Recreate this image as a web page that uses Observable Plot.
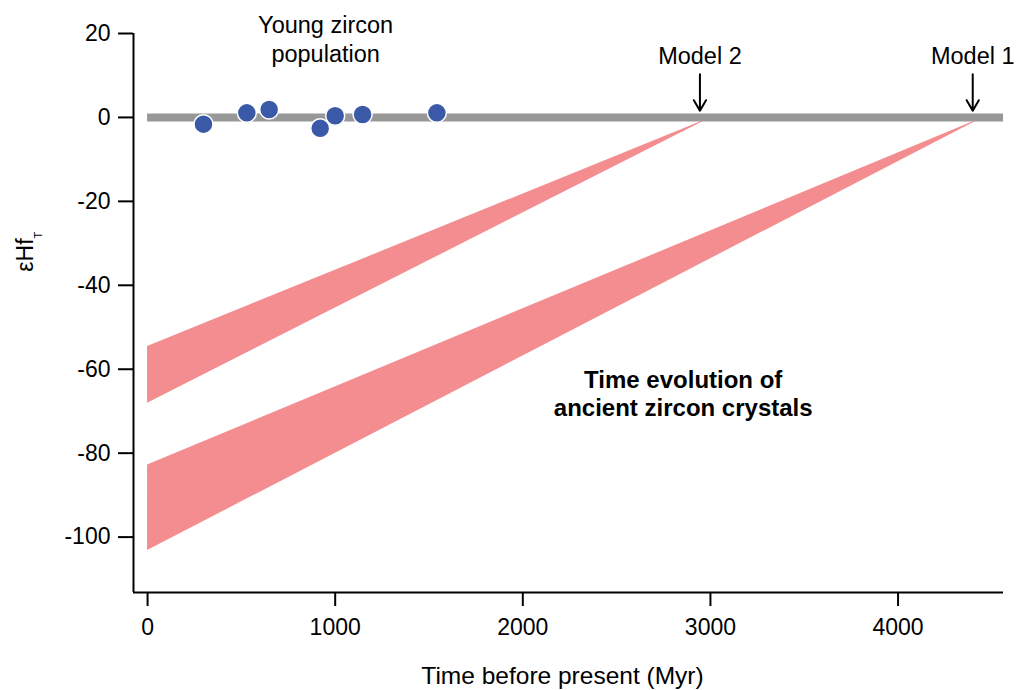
<!DOCTYPE html>
<html>
<head>
<meta charset="utf-8">
<script src="https://cdn.jsdelivr.net/npm/d3@7"></script>
<script src="https://cdn.jsdelivr.net/npm/@observablehq/plot@0.6"></script>
<style>
  body { margin: 0; background: #fff; }
</style>
</head>
<body>
<div id="chart"></div>
<script>
// Axis extents and tick values
const ageDomain = [-75, 4562];
const eHfDomain = [-113.2, 20];
const ageTicks = [0, 1000, 2000, 3000, 4000];
const eHfTicks = [20, 0, -20, -40, -60, -80, -100];

// Young zircon population (age in Myr, εHf at crystallisation)
const youngAge = [298, 529, 648, 920, 1000, 1146, 1542];
const youngEHf = [-1.6, 1.1, 1.9, -2.6, 0.4, 0.7, 1.1];

// Evolution bands of the ancient zircons back to their model ages
const bandModel = ["Model 1", "Model 1", "Model 2", "Model 2"];
const bandAge = [0, 4455, 0, 3005];
const bandLow = [-103.2, 0, -68.1, 0];
const bandHigh = [-82.8, 0, -54.6, 0];

// Model age markers
const modelNames = ["Model 2", "Model 1"];
const modelAge = [2944, 4398];

const FONT = "'Liberation Sans', Arial, Helvetica, sans-serif";

const young = youngAge.map((t, i) => ({age: t, eHf: youngEHf[i]}));
const bands = bandAge.map((t, i) => ({model: bandModel[i], age: t, low: bandLow[i], high: bandHigh[i]}));
const models = modelNames.map((name, i) => ({name, age: modelAge[i]}));

const chart = Plot.plot({
  width: 1016,
  height: 690,
  marginLeft: 133,
  marginRight: 13,
  marginTop: 33,
  marginBottom: 98,
  style: {fontFamily: FONT, fontSize: "23px", color: "#000", background: "#fff"},
  x: {domain: ageDomain},
  y: {domain: eHfDomain},
  marks: [
    Plot.areaY(bands, {x: "age", y1: "low", y2: "high", z: "model", fill: "#f48d90"}),
    Plot.ruleY([0], {x1: 0, x2: ageDomain[1], stroke: "#989898", strokeWidth: 8}),
    Plot.dot(young, {x: "age", y: "eHf", r: 9.5, fill: "#3a5aa8", stroke: "#fff", strokeWidth: 1.5}),
    Plot.arrow(models, {x: "age", y1: 10.3, y2: 1.6, stroke: "#000", strokeWidth: 2, headLength: 10, headAngle: 60}),
    Plot.text(models, {x: "age", y: 16.6, text: "name", lineAnchor: "top", fontSize: 23.5, fill: "#000"}),
    Plot.text(["Young zircon\npopulation"], {x: 949, y: 24.8, text: d => d, lineAnchor: "top", lineHeight: 1.2, fontSize: 23.5, fill: "#000"}),
    Plot.text(["Time evolution of\nancient zircon crystals"], {x: 2855, y: -59.8, text: d => d, lineAnchor: "top", lineHeight: 1.17, fontSize: 24, fontWeight: "bold", fill: "#000"}),
    Plot.axisX({ticks: ageTicks, tickFormat: d => String(d), tickSize: 14, tickPadding: 12, strokeWidth: 2, fontSize: 23, label: null}),
    Plot.axisY({ticks: eHfTicks, tickFormat: d => String(d), tickSize: 15, tickPadding: 8, strokeWidth: 2, fontSize: 23, label: null}),
    Plot.ruleX([ageDomain[0]], {stroke: "#000", strokeWidth: 2}),
    Plot.ruleY([eHfDomain[0]], {stroke: "#000", strokeWidth: 2}),
    Plot.text(["Time before present (Myr)"], {frameAnchor: "bottom", text: d => d, dx: -6, dy: 74, lineAnchor: "top", fontSize: 24.5, fill: "#000"}),
    Plot.text([-32], {y: d => d, text: () => "εHf", frameAnchor: "left", textAnchor: "middle", dx: -108, rotate: -90, fontSize: 23, fill: "#000"})
  ]
});

// subscript T on the y-axis label
d3.select(chart).selectAll("text")
  .filter(function () { return this.textContent === "εHf"; })
  .append("tspan").attr("dy", 9).attr("font-size", 11).text("T");

document.getElementById("chart").appendChild(chart);
</script>
</body>
</html>
